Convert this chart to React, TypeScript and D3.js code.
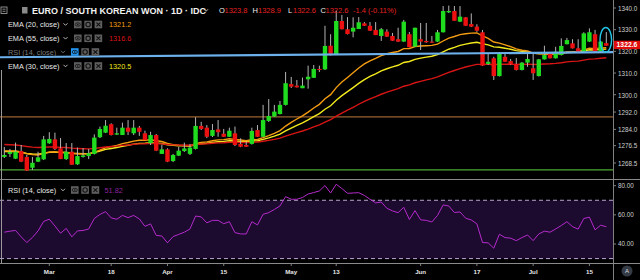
import React from "react";
import * as d3 from "d3";

// ---------- DATA ----------
const opens = [1271.3,1272.7,1270.5,1274.0,1271.3,1266.3,1269.1,1270.2,1277.6,1279.4,1275.3,1270.3,1273.7,1267.9,1271.3,1271.7,1272.7,1280.4,1282.5,1286.4,1281.6,1281.4,1284.8,1282.2,1284.8,1282.2,1277.6,1281.4,1272.7,1274.8,1269.4,1271.9,1274.0,1272.7,1275.0,1285.6,1284.8,1281.0,1284.0,1282.0,1280.6,1282.2,1277.3,1276.8,1277.3,1283.7,1280.6,1287.9,1289.9,1291.1,1295.3,1304.9,1304.2,1303.0,1307.1,1307.8,1311.9,1311.7,1322.6,1318.6,1334.0,1330.2,1329.1,1330.3,1332.9,1331.8,1329.9,1327.1,1329.1,1327.1,1325.6,1324.5,1327.9,1322.2,1325.6,1324.8,1324.5,1324.5,1328.8,1338.0,1338.6,1333.7,1335.7,1332.6,1331.4,1328.8,1314.2,1316.8,1308.6,1317.5,1315.5,1314.2,1311.4,1314.8,1312.2,1308.6,1316.3,1319.1,1316.8,1318.3,1323.3,1323.7,1321.4,1319.9,1324.5,1327.9,1319.9,1323.8];
const highs = [1275.9,1275.0,1277.9,1276.8,1272.2,1271.3,1273.7,1281.0,1282.7,1282.5,1280.0,1277.7,1277.7,1275.6,1275.4,1275.0,1281.7,1285.3,1288.3,1286.8,1284.8,1287.1,1288.3,1288.3,1285.6,1283.4,1282.9,1281.9,1276.8,1275.3,1272.7,1275.9,1277.9,1277.3,1289.6,1287.5,1286.0,1286.5,1288.3,1284.2,1284.8,1285.3,1279.9,1278.3,1284.8,1286.0,1295.3,1298.0,1295.3,1297.1,1310.5,1308.2,1306.8,1307.9,1313.4,1313.7,1313.4,1331.8,1327.9,1338.8,1336.8,1335.8,1335.7,1335.8,1333.5,1333.5,1333.5,1330.8,1330.2,1328.5,1330.9,1334.5,1328.9,1330.9,1333.1,1333.1,1327.1,1329.9,1340.9,1341.1,1340.9,1340.9,1335.8,1337.5,1332.5,1329.9,1319.1,1317.5,1319.7,1319.4,1316.5,1316.9,1315.1,1319.2,1319.1,1316.5,1322.6,1319.7,1322.1,1326.0,1326.2,1325.6,1325.6,1328.8,1330.6,1329.9,1324.8,1328.9];
const lows = [1270.8,1271.3,1270.3,1268.9,1264.8,1265.3,1268.9,1269.9,1277.3,1274.5,1270.3,1269.9,1267.6,1267.6,1271.0,1270.3,1272.4,1280.0,1282.3,1281.2,1281.4,1281.4,1281.4,1281.4,1281.0,1279.1,1276.8,1274.0,1272.7,1268.9,1268.9,1271.7,1273.6,1272.2,1274.7,1283.7,1280.0,1280.5,1280.6,1280.5,1280.5,1276.3,1275.8,1275.9,1277.0,1280.5,1280.5,1287.4,1289.7,1290.9,1295.0,1303.1,1303.3,1303.0,1302.8,1307.7,1310.5,1311.4,1318.1,1318.3,1330.1,1327.8,1326.5,1330.3,1331.7,1329.4,1327.5,1324.8,1326.6,1324.8,1324.3,1324.3,1321.9,1322.0,1320.6,1323.9,1323.9,1324.3,1328.7,1337.7,1334.0,1333.5,1331.7,1331.2,1329.0,1313.3,1313.7,1306.8,1308.4,1315.1,1313.9,1311.2,1311.2,1312.9,1306.8,1308.4,1316.2,1316.7,1316.7,1318.1,1323.2,1321.3,1319.5,1319.7,1324.3,1319.7,1319.7,1322.6];
const closes = [1272.2,1273.6,1273.7,1269.1,1265.0,1268.6,1271.1,1279.4,1279.6,1275.0,1270.3,1273.7,1267.7,1271.7,1272.0,1273.0,1280.2,1284.2,1285.7,1281.4,1282.2,1284.8,1282.9,1284.8,1282.9,1279.1,1281.4,1274.2,1274.8,1269.1,1272.2,1274.2,1275.2,1275.6,1285.6,1284.2,1280.6,1283.7,1282.7,1280.6,1283.4,1276.8,1276.0,1276.0,1283.3,1280.6,1288.3,1290.2,1292.2,1295.3,1305.3,1303.7,1303.4,1304.2,1308.3,1311.9,1311.4,1322.5,1318.3,1334.0,1330.2,1328.0,1330.9,1333.4,1331.8,1329.5,1327.5,1330.2,1326.8,1324.9,1324.5,1333.7,1321.9,1330.9,1324.5,1324.2,1324.0,1328.8,1338.6,1338.6,1334.1,1336.0,1331.8,1331.4,1329.5,1313.4,1315.2,1308.6,1319.1,1315.2,1314.2,1311.4,1314.8,1316.5,1309.9,1316.3,1318.3,1316.8,1319.8,1322.5,1325.2,1321.4,1319.6,1328.3,1328.8,1319.9,1324.5,1322.6];
const rsiValues = [48.1,48.8,49.3,44.9,41.0,44.5,49.0,55.5,57.0,52.4,47.4,50.7,44.9,49.0,49.3,50.3,57.5,60.3,62.2,57.9,57.0,59.6,58.1,59.6,57.2,52.1,53.8,45.9,45.5,40.8,45.1,46.6,48.1,50.3,59.2,58.6,54.5,56.2,56.2,53.9,55.3,47.8,46.9,46.9,55.3,53.1,60.4,61.5,63.7,66.1,72.5,70.7,70.7,71.9,74.3,75.3,76.4,80.1,75.0,81.0,78.1,74.8,75.0,75.2,73.3,70.7,68.2,68.8,64.5,62.7,61.5,65.2,56.8,62.9,56.6,56.2,55.1,59.6,66.8,66.1,61.6,62.0,57.7,56.5,53.8,41.0,40.8,37.1,46.7,44.4,44.0,42.3,44.4,46.2,42.3,46.9,48.8,48.1,50.3,52.7,55.3,51.9,50.2,57.5,58.4,49.7,52.9,51.82];

// EMA values just before the first candle
const emaPeriods = [20, 55, 30];
const emaSeeds = [1274.3, 1277.2, 1273.9];
const emaColors = ["#f39c12", "#d81414", "#f2ea1c"];
const emaLegendValues = ["1321.2", "1316.6", "1320.5"];

const timeTickLabels = ["Mar", "18", "Apr", "15", "May", "13", "Jun", "17", "Jul", "15"];
const timeTickIndex = [8, 19, 29, 39, 51, 59, 74, 84, 94, 104];
const priceTicks = [1340, 1330, 1320, 1310, 1300, 1292, 1284, 1276.5, 1268.5];
const rsiTicks = [80, 60, 40];

const levelBrown = 1289.8;
const levelGreen = 1265.3;
const trendPoints = [{ i: 0, p: 1317.3 }, { i: 107, p: 1319.6 }];
const ohlcLabel = { o: "1323.8", h: "1328.9", l: "1322.6", c: "1322.6", chg: "-1.4 (-0.11%)" };
const lastPrice = 1322.6;
const rsiLast = "51.82";

const FONT = "'Liberation Sans', Arial, sans-serif";
const UP = "#1fdc1f";
const DOWN = "#ec1010";

function Chevron({ x, y, color }: { x: number; y: number; color: string }) {
  return <path d={`M${x},${y - 1.2} l2,2 l2,-2`} fill="none" stroke={color} strokeWidth={0.9} />;
}

function Icons({ x0, yc, blue }: { x0: number; yc: number; blue?: boolean }) {
  const s = 7.6;
  return (
    <g>
      {[0, 1, 2].map((k) => (
        <rect key={k} x={x0 + k * 10.3} y={yc - s / 2} width={s} height={s} fill={k === 0 && blue ? "#2196f3" : "#5e5e5e"} />
      ))}
      <ellipse cx={x0 + s / 2} cy={yc} rx={2.6} ry={1.7} fill="none" stroke="#111" strokeWidth={0.8} />
      <circle cx={x0 + s / 2} cy={yc} r={0.8} fill="#111" />
      <circle cx={x0 + 10.3 + s / 2} cy={yc} r={2.2} fill="none" stroke="#111" strokeWidth={1.1} />
      <path
        d={`M${x0 + 20.6 + 1.8},${yc - 1.9} L${x0 + 20.6 + s - 1.8},${yc + 1.9} M${x0 + 20.6 + s - 1.8},${yc - 1.9} L${x0 + 20.6 + 1.8},${yc + 1.9}`}
        stroke="#111"
        strokeWidth={1.1}
      />
    </g>
  );
}

export default function App() {
  const W = 640;
  const H = 280;
  const n = closes.length;
  const x = d3.scaleLinear().domain([0, n - 1]).range([4.3, 606.3]);
  const y = d3.scaleLinear().domain([1268.5, 1340]).range([163, 8]);
  const yr = d3.scaleLinear().domain([40, 80]).range([244, 185.7]);
  const axisX = 613;

  const ema = (period: number, seed: number) => {
    const k = 2 / (period + 1);
    let e = seed;
    return closes.map((c) => (e = e + k * (c - e)));
  };
  const emas = emaPeriods.map((p, j) => ema(p, emaSeeds[j]));
  const priceLine = d3.line<number>().x((_, i) => x(i)).y((v) => y(v));
  const rsiLine = d3.line<number>().x((_, i) => x(i)).y((v) => yr(v));

  const trendAt = (px: number) => {
    const i = x.invert(px);
    const [a, b] = trendPoints;
    return y(a.p + ((b.p - a.p) * (i - a.i)) / (b.i - a.i));
  };

  const legendRows = [
    { label: "EMA (20, close)", y: 24.5, val: emaLegendValues[0], color: emaColors[0], dim: false },
    { label: "EMA (55, close)", y: 38.3, val: emaLegendValues[1], color: emaColors[1], dim: false },
    { label: "RSI (14, close)", y: 52, val: "", color: "", dim: true },
    { label: "EMA (30, close)", y: 66, val: emaLegendValues[2], color: emaColors[2], dim: false },
  ];

  const bw = 4.4;
  const lastY = y(lastPrice);

  return (
    <svg
      width={W}
      height={H}
      style={{ position: "absolute", left: 0, top: 0, display: "block" }}
      fontFamily={FONT}
    >
      <rect width={W} height={H} fill="#000" />

      {/* RSI band */}
      <rect x={0} y={yr(70)} width={axisX} height={yr(30) - yr(70)} fill="#1c0a2f" />
      {[70, 30].map((v) => (
        <line key={v} x1={0} x2={axisX} y1={yr(v)} y2={yr(v)} stroke="#b7a3cc" strokeDasharray="4,3" strokeWidth={1} />
      ))}
      <path d={rsiLine(rsiValues) || ""} fill="none" stroke="#b52bcc" strokeWidth={1} />

      {/* horizontal levels */}
      <line x1={0} x2={axisX} y1={y(levelBrown)} y2={y(levelBrown)} stroke="#9a6230" strokeWidth={1.3} />
      <line x1={0} x2={axisX} y1={y(levelGreen)} y2={y(levelGreen)} stroke="#4aa832" strokeWidth={1.3} />

      {/* EMA lines */}
      {[2, 0, 1].map((j) => (
        <path key={j} d={priceLine(emas[j]) || ""} fill="none" stroke={emaColors[j]} strokeWidth={1.4} />
      ))}

      {/* candles */}
      {closes.map((c, i) => {
        const o = opens[i];
        const up = c >= o;
        const top = y(Math.max(o, c));
        const bot = y(Math.min(o, c));
        return (
          <g key={i}>
            <line x1={x(i)} x2={x(i)} y1={y(highs[i])} y2={y(lows[i])} stroke="#b4b4b4" strokeWidth={1} />
            <rect x={x(i) - bw / 2} y={top} width={bw} height={Math.max(1, bot - top)} fill={up ? UP : DOWN} />
          </g>
        );
      })}

      {/* trend line */}
      <line x1={0} x2={axisX} y1={trendAt(0)} y2={trendAt(axisX)} stroke="#6cb0ec" strokeWidth={2.2} />

      {/* ellipse annotation */}
      <ellipse cx={x(n - 1) - 0.5} cy={y(1325.3)} rx={5.8} ry={12.3} fill="none" stroke="#22c4e4" strokeWidth={1.4} />

      {/* panel separators */}
      <line x1={1.5} x2={1.5} y1={70} y2={263} stroke="#9a9a9a" strokeWidth={1} />
      <line x1={axisX + 0.5} x2={axisX + 0.5} y1={0} y2={H} stroke="#808080" strokeWidth={1} />
      <line x1={0} x2={W} y1={179.5} y2={179.5} stroke="#8a8a8a" strokeWidth={1} />
      <line x1={0} x2={W} y1={263.5} y2={263.5} stroke="#8a8a8a" strokeWidth={1} />

      {/* price axis */}
      {priceTicks.map((v) => (
        <g key={v}>
          <line x1={axisX} x2={axisX + 3} y1={y(v)} y2={y(v)} stroke="#808080" />
          <text x={618} y={y(v) + 0.6} dy="0.35em" fontSize={6.3} fill="#cfcfcf">
            {v.toFixed(1)}
          </text>
        </g>
      ))}
      <rect x={axisX + 1} y={lastY - 5} width={W - axisX - 1} height={8.4} fill="#e00b0b" />
      <text x={627} y={lastY - 0.8} dy="0.35em" fontSize={6.8} fontWeight="bold" fill="#fff" textAnchor="middle">
        {lastPrice.toFixed(1)}
      </text>

      {/* RSI axis */}
      {rsiTicks.map((v) => (
        <g key={v}>
          <line x1={axisX} x2={axisX + 3} y1={yr(v)} y2={yr(v)} stroke="#808080" />
          <text x={618} y={yr(v)} dy="0.35em" fontSize={6.3} fill="#cfcfcf">
            {v.toFixed(2)}
          </text>
        </g>
      ))}

      {/* time axis */}
      {timeTickLabels.map((lab, k) => (
        <g key={k}>
          <line x1={x(timeTickIndex[k])} x2={x(timeTickIndex[k])} y1={263.5} y2={266} stroke="#808080" />
          <text x={x(timeTickIndex[k])} y={272} dy="0.35em" fontSize={6.2} fontWeight="bold" fill="#e6e6e6" textAnchor="middle">
            {lab}
          </text>
        </g>
      ))}
      <circle cx={627} cy={271} r={5.5} fill="#343a46" />
      <text x={627} y={271} dy="0.35em" fontSize={6} fill="#ddd" textAnchor="middle">A</text>

      {/* header */}
      <rect x={1} y={7} width={6} height={6.5} fill="none" stroke="#aaa" strokeWidth={0.8} />
      <path d="M2.5,9.2 H5.5 M2.5,11.3 H5.5" stroke="#aaa" strokeWidth={0.8} />
      <rect x={22} y={7} width={5.5} height={6.5} fill="#8a8a8a" />
      <text x={32} y={10.5} dy="0.35em" fontSize={9} fontWeight="bold" fill="#f2f2f2">
        EURO / SOUTH KOREAN WON · 1D · IDC
      </text>
      <Chevron x={204} y={10.5} color="#ddd" />
      <g fontSize={7.5}>
        <text x={219} y={10.5} dy="0.35em" fill="#eee">O</text>
        <text x={224.5} y={10.5} dy="0.35em" fill="#e52020">{ohlcLabel.o}</text>
        <text x={252.5} y={10.5} dy="0.35em" fill="#eee">H</text>
        <text x={258} y={10.5} dy="0.35em" fill="#e52020">{ohlcLabel.h}</text>
        <text x={288} y={10.5} dy="0.35em" fill="#eee">L</text>
        <text x={293} y={10.5} dy="0.35em" fill="#e52020">{ohlcLabel.l}</text>
        <text x={320.5} y={10.5} dy="0.35em" fill="#eee">C</text>
        <text x={325.5} y={10.5} dy="0.35em" fill="#e52020">{ohlcLabel.c}</text>
        <text x={353} y={10.5} dy="0.35em" fill="#e52020">{ohlcLabel.chg}</text>
      </g>

      {/* legends in price pane */}
      {legendRows.map((r) => (
        <g key={r.label}>
          <text x={8} y={r.y} dy="0.35em" fontSize={7.3} fill={r.dim ? "#7a7a7a" : "#e8e8e8"}>
            {r.label}
          </text>
          <Chevron x={r.dim ? 61 : 63.5} y={r.y} color={r.dim ? "#7a7a7a" : "#ccc"} />
          <Icons x0={r.dim ? 71 : 74} yc={r.y} blue={r.dim} />
          {r.val && (
            <text x={109} y={r.y} dy="0.35em" fontSize={7.3} fill={r.color}>
              {r.val}
            </text>
          )}
        </g>
      ))}

      {/* RSI pane legend */}
      <text x={8} y={190} dy="0.35em" fontSize={7.3} fill="#e8e8e8">RSI (14, close)</text>
      <Chevron x={61} y={190} color="#ccc" />
      <Icons x0={71} yc={190} />
      <text x={104.5} y={190} dy="0.35em" fontSize={7.3} fill="#8e239f">{rsiLast}</text>
    </svg>
  );
}
